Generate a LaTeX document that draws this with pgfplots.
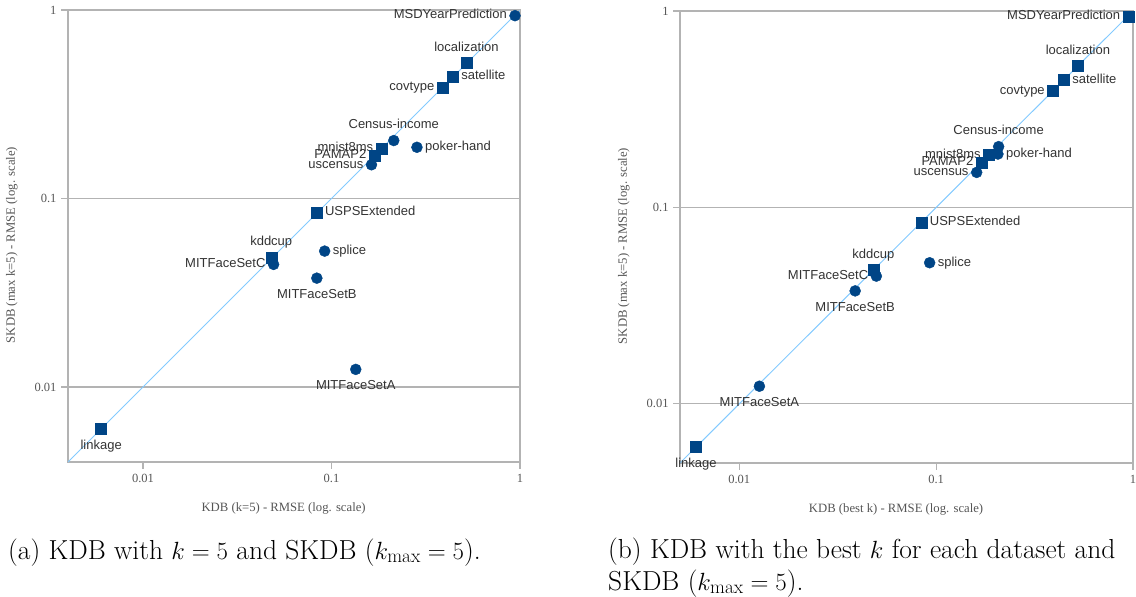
\documentclass[border=0pt]{standalone}
\usepackage{fontspec}
\usepackage{pgfplots}
\pgfplotsset{compat=1.18}
\newfontfamily\lsans{Liberation Sans}
\newfontfamily\lserif{Liberation Serif}
\definecolor{mk}{HTML}{004586}
\definecolor{diag}{HTML}{83CAFF}
\definecolor{gridc}{HTML}{B3B3B3}
\definecolor{txt}{HTML}{333333}
\definecolor{ttxt}{HTML}{555555}

\newcommand\tickfont{\lserif\fontsize{12.5}{14}\selectfont}
\newcommand\axlabfont{\lserif\fontsize{12.7}{15}\selectfont}

\tikzset{
  lbl/.style={inner sep=1pt, text height=9.4pt, text depth=2.8pt,
    font=\lsans\fontsize{13}{15}\selectfont, text=txt},
  lbl east/.style={lbl, anchor=east, xshift=-7pt},
  lbl west/.style={lbl, anchor=west, xshift=7pt},
  lbl south/.style={lbl, anchor=south, yshift=7.8pt},
  lbl north/.style={lbl, anchor=north, yshift=-9.8pt},
}

% #1 mark, #2 label side, #3 coordinates with [label]
\newcommand\grp[3]{%
  \addplot[only marks, color=mk, mark size=5.5pt, mark=#1,
    nodes near coords, point meta=explicit symbolic,
    every node near coord/.style={lbl #2}]
  coordinates {#3};}

\pgfplotsset{
  every axis/.append style={
    scale only axis,
    xtick={0.01,0.1,1}, ytick={0.01,0.1,1},
    xticklabels={0.01,0.1,1}, yticklabels={0.01,0.1,1},
    xminorticks=false, yminorticks=false,
    xtick pos=bottom, ytick pos=left,
    tick align=outside, major tick length=7pt,
    tick style={gridc, line width=1.2pt},
    ymajorgrids, grid style={gridc, line width=1.2pt},
    axis line style={gridc, line width=1.6pt},
    xticklabel style={font=\tickfont, text=ttxt, yshift=-2pt},
    yticklabel style={font=\tickfont, text=ttxt, xshift=-1pt},
    every axis x label/.style={at={(axis description cs:0.477,-0.103)}, anchor=center,
      font=\axlabfont, text=ttxt},
    every axis y label/.style={at={(axis description cs:-0.124,0.48)}, rotate=90, anchor=center,
      font=\axlabfont, text=ttxt},
  },
}

\begin{document}
\begin{tikzpicture}
\useasboundingbox (0pt,0pt) rectangle (1136pt,-597pt);
\begin{axis}[xmode=log, ymode=log, width=452pt, height=452pt, at={(68pt,-462pt)}, anchor=south west,
  xmin=0.004, ymin=0.004, xmax=1, ymax=1,
  xlabel={KDB (k=5) - RMSE (log. scale)},
  ylabel={SKDB (max k=5) - RMSE (log. scale)}]
\addplot[diag, line width=1pt] coordinates {(0.004,0.004) (1,1)};
% circles
\grp{*}{east}{(0.941,0.933)[MSDYearPrediction] (0.163,0.151)[uscensus] (0.0493,0.0447)[MITFaceSetC]}
\grp{*}{south}{(0.214,0.203)[Census-income]}
\grp{*}{west}{(0.284,0.187)[poker-hand] (0.092,0.0526)[splice]}
\grp{*}{north}{(0.0836,0.0378)[MITFaceSetB] (0.1345,0.0124)[MITFaceSetA]}
% squares
\grp{square*}{south}{(0.52,0.524)[localization] (0.0479,0.0485)[kddcup]}
\grp{square*}{west}{(0.442,0.443)[satellite] (0.0836,0.0843)[USPSExtended]}
\grp{square*}{east}{(0.388,0.389)[covtype] (0.184,0.184)[mnist8ms] (0.169,0.169)[PAMAP2]}
\grp{square*}{north}{(0.0060,0.0060)[linkage]}
\end{axis}
\begin{axis}[xmode=log, ymode=log, width=453pt, height=452pt, at={(680pt,-463pt)}, anchor=south west,
  xmin=0.005, ymin=0.005, xmax=1, ymax=1,
  xlabel={KDB (best k) - RMSE (log. scale)},
  ylabel={SKDB (max k=5) - RMSE (log. scale)}]
\addplot[diag, line width=1pt] coordinates {(0.005,0.005) (1,1)};
% circles
\grp{*}{south}{(0.2077,0.204)[Census-income]}
\grp{*}{west}{(0.206,0.187)[poker-hand] (0.0927,0.0523)[splice]}
\grp{*}{east}{(0.1607,0.1508)[uscensus] (0.0497,0.0447)[MITFaceSetC]}
\grp{*}{north}{(0.0388,0.0376)[MITFaceSetB] (0.01266,0.0123)[MITFaceSetA]}
% squares
\grp{square*}{east}{(0.947,0.936)[MSDYearPrediction] (0.392,0.391)[covtype] (0.1854,0.1847)[mnist8ms] (0.170,0.1695)[PAMAP2]}
\grp{square*}{south}{(0.525,0.525)[localization] (0.048,0.048)[kddcup]}
\grp{square*}{west}{(0.447,0.445)[satellite] (0.0845,0.0839)[USPSExtended]}
\grp{square*}{north}{(0.00603,0.00602)[linkage]}
\end{axis}
\node[anchor=base west, inner sep=0pt, font=\fontsize{27.5}{33}\selectfont] at (8pt,-559pt)
  {(a) KDB with $k=5$ and SKDB ($k_{\max}=5$).};
\node[anchor=base west, inner sep=0pt, font=\fontsize{27.5}{33}\selectfont] at (608pt,-558pt)
  {(b) KDB with the best $k$ for each dataset and};
\node[anchor=base west, inner sep=0pt, font=\fontsize{27.5}{33}\selectfont] at (608pt,-590pt)
  {SKDB ($k_{\max}=5$).};
\end{tikzpicture}
\end{document}
